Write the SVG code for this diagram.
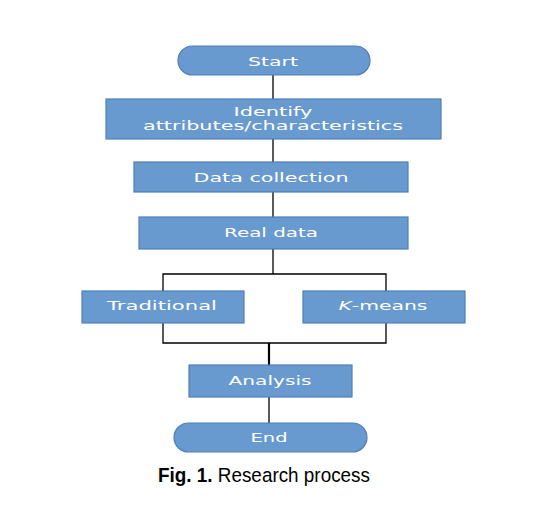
<svg xmlns="http://www.w3.org/2000/svg" width="544" height="522" viewBox="0 0 544 522">
<style>
.box{fill:#6899cf;stroke:#4f7fb8;stroke-width:1.2}
.t{font-family:"DejaVu Sans",Verdana,sans-serif;font-size:12px;fill:#ffffff;text-anchor:middle}
.ln{fill:none;stroke:#000;stroke-width:1.3}
.cap{font-family:"Liberation Sans",Arial,sans-serif;font-size:20.5px;fill:#000}
</style>
<rect width="544" height="522" fill="#ffffff"/>
<g id="connectors">
<line class="ln" x1="273" y1="75" x2="273" y2="99"/>
<line class="ln" x1="273" y1="139" x2="273" y2="162"/>
<line class="ln" x1="273" y1="192" x2="273" y2="217"/>
<line class="ln" x1="273" y1="249" x2="273" y2="274"/>
<polyline class="ln" points="163,291 163,274 386,274 386,291"/>
<polyline class="ln" points="163,323 163,343 386,343 386,323"/>
<line class="ln" x1="269" y1="343" x2="269" y2="365" style="stroke-width:2.2"/>
<line class="ln" x1="269" y1="397" x2="269" y2="423"/>
</g>
<g id="start">
<rect class="box" x="178" y="46" width="192" height="29" rx="14.5"/>
<text class="t" x="273" y="66" textLength="50" lengthAdjust="spacingAndGlyphs">Start</text>
</g>
<g id="identify">
<rect class="box" x="106" y="99" width="335" height="40"/>
<text class="t" x="273" y="116" textLength="79" lengthAdjust="spacingAndGlyphs">Identify</text>
<text class="t" x="273" y="130" textLength="260" lengthAdjust="spacingAndGlyphs">attributes/characteristics</text>
</g>
<g id="data-collection">
<rect class="box" x="134" y="162" width="274" height="30"/>
<text class="t" x="271" y="182" textLength="155" lengthAdjust="spacingAndGlyphs">Data collection</text>
</g>
<g id="real-data">
<rect class="box" x="139" y="217" width="269" height="32"/>
<text class="t" x="271" y="237" textLength="94" lengthAdjust="spacingAndGlyphs">Real data</text>
</g>
<g id="traditional">
<rect class="box" x="82" y="291" width="162" height="32"/>
<text class="t" x="162" y="310" textLength="110" lengthAdjust="spacingAndGlyphs">Traditional</text>
</g>
<g id="kmeans">
<rect class="box" x="303" y="291" width="162" height="32"/>
<text class="t" x="383" y="310" textLength="89" lengthAdjust="spacingAndGlyphs"><tspan font-style="italic">K</tspan>-means</text>
</g>
<g id="analysis">
<rect class="box" x="189" y="365" width="163" height="32"/>
<text class="t" x="270" y="385" textLength="83" lengthAdjust="spacingAndGlyphs">Analysis</text>
</g>
<g id="end">
<rect class="box" x="174" y="423" width="193" height="29" rx="14.5"/>
<text class="t" x="269" y="442" textLength="37" lengthAdjust="spacingAndGlyphs">End</text>
</g>
<text class="cap" x="158" y="482" textLength="212" lengthAdjust="spacingAndGlyphs"><tspan font-weight="bold">Fig. 1.</tspan> Research process</text>
</svg>
